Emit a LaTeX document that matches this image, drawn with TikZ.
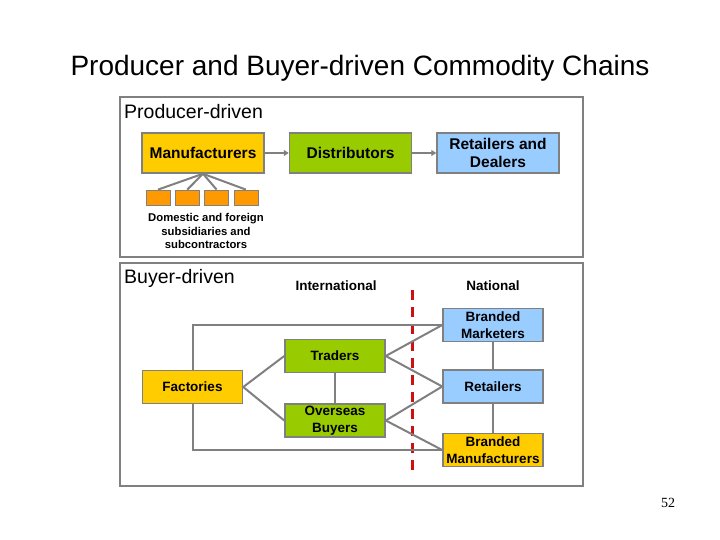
\documentclass[tikz,border=0pt]{standalone}
\usepackage{fontspec}
\setmainfont{Liberation Sans}
\newfontfamily\numfont{Liberation Serif}
\usetikzlibrary{positioning,arrows.meta}

\definecolor{edgegray}{RGB}{128,128,128}
\definecolor{gold}{RGB}{255,204,0}
\definecolor{leaf}{RGB}{153,204,0}
\definecolor{sky}{RGB}{153,204,255}
\definecolor{amber}{RGB}{255,153,0}
\definecolor{cutred}{RGB}{204,17,17}

\tikzset{
  chain/.style = {draw=edgegray, line width=1.5pt, minimum width=122pt, minimum height=40pt,
    inner sep=0pt, align=center, font=\bfseries\fontsize{15.5}{18}\selectfont},
  link/.style = {chain, minimum width=100pt, minimum height=33pt,
    font=\bfseries\fontsize{13.5}{17}\selectfont},
  sub/.style = {draw=edgegray, line width=0.8pt, fill=amber, minimum width=24pt,
    minimum height=15pt, inner sep=0pt},
  wire/.style = {draw=edgegray, line width=2pt},
  frame/.style = {draw=edgegray, line width=2pt}
}

\begin{document}
\begin{tikzpicture}[x=1pt, y=-1pt, node distance=24pt]
\useasboundingbox (0,0) rectangle (720,540);

\node[font=\fontsize{28}{32}\selectfont] (title) at (360,68) {Producer and Buyer-driven Commodity Chains};

% producer-driven
\draw[frame] (120,97) rectangle (583,257);
\node[anchor=west, inner sep=0pt, font=\fontsize{19.5}{22}\selectfont] (pd) at (124,112) {Producer-driven};
\node[chain, fill=gold] (man) at (203,153) {Manufacturers};
\node[chain, fill=leaf] (dis) [right=of man] {Distributors};
\node[chain, fill=sky] (ret) [right=of dis] {Retailers and\\Dealers};
\draw[wire, -{Triangle[length=5pt,width=6pt]}] (man) -- (dis);
\draw[wire, -{Triangle[length=5pt,width=6pt]}] (dis) -- (ret);
\foreach \i in {0,...,3} {
  \node[sub] (s\i) at ({158+29.3*\i},197.5) {};
  \draw[wire] (man.south) -- (s\i.north);
}
\node[align=center, inner sep=0pt, font=\bfseries\fontsize{11.3}{13.5}\selectfont] (subs) at (206,231)
  {Domestic and foreign\\subsidiaries and\\subcontractors};

% buyer-driven
\draw[frame] (120,263) rectangle (583,486);
\node[anchor=west, inner sep=0pt, font=\fontsize{19.5}{22}\selectfont] (bd) at (124,278) {Buyer-driven};
\node[font=\bfseries\fontsize{13.5}{16}\selectfont] (intl) at (336,286) {International};
\node[font=\bfseries\fontsize{13.5}{16}\selectfont] (natl) at (493,286) {National};
\coordinate (cuttop) at (412,290);
\coordinate (cutbot) at (412,476);
\draw[cutred, line width=3pt, dash pattern=on 10pt off 7pt] (cuttop) -- (cutbot);

\node[link, fill=gold] (fac) at (192.5,387) {Factories};
\node[link, fill=leaf] (tra) at (335,356) {Traders};
\node[link, fill=leaf] (ovs) at (335,420.5) {Overseas\\Buyers};
\node[link, fill=sky] (bmk) at (493,325) {Branded\\Marketers};
\node[link, fill=sky] (rtl) at (493,386.5) {Retailers};
\node[link, fill=gold] (bmf) at (493,450) {Branded\\Manufacturers};

\draw[wire] (fac.east) -- (tra.west);
\draw[wire] (fac.east) -- (ovs.west);
\draw[wire] (tra) -- (ovs);
\draw[wire] (tra.east) -- (bmk.west);
\draw[wire] (tra.east) -- (rtl.west);
\draw[wire] (ovs.east) -- (rtl.west);
\draw[wire] (ovs.east) -- (bmf.west);
\draw[wire] (bmk) -- (rtl);
\draw[wire] (rtl) -- (bmf);
\draw[wire] (fac.north) |- (bmk.west);
\draw[wire] (fac.south) |- (bmf.west);

\node[font=\numfont\fontsize{14}{16}\selectfont] (page) at (668,503) {52};
\end{tikzpicture}
\end{document}
